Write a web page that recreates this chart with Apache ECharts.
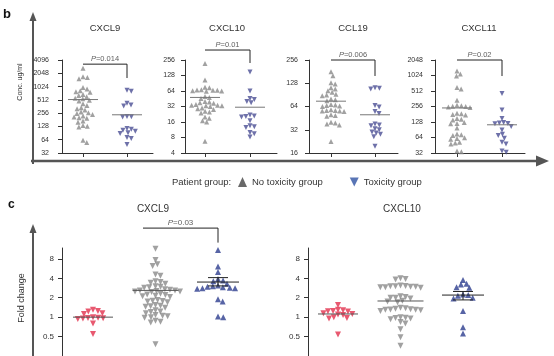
<!DOCTYPE html>
<html><head><meta charset="utf-8">
<script src="https://cdn.jsdelivr.net/npm/echarts@6/dist/echarts.min.js"></script>
<style>html,body{margin:0;padding:0;background:#fff}#chart{width:554px;height:356px}</style>
</head><body><div id="chart"></div>
<script>
// ================= DATA =================
const bTitles = ['CXCL9', 'CXCL10', 'CCL19', 'CXCL11'];
const bPvalues = ['0.014', '0.01', '0.006', '0.02'];
const bTicksCXCL9 = [32, 64, 128, 256, 512, 1024, 2048, 4096];
const bTicksCXCL10 = [4, 8, 16, 32, 64, 128, 256];
const bTicksCCL19 = [16, 32, 64, 128, 256];
const bTicksCXCL11 = [32, 64, 128, 256, 512, 1024, 2048];

const bNoToxCXCL9 = [2650, 1700, 1650, 1550, 980, 900, 820, 780, 760, 680, 640, 600, 560, 540, 500, 480, 420, 380, 340, 320, 300, 270, 260, 250, 240, 220, 210, 200, 195, 170, 160, 135, 130, 125, 62, 55];
const bToxCXCL9 = [850, 800, 430, 390, 370, 215, 212, 208, 115, 110, 105, 100, 92, 88, 72, 68, 50];
const bNoToxCXCL10 = [220, 105, 76, 74, 68, 67, 66, 66, 65, 64, 63, 50, 48, 46, 40, 39, 38, 37, 35, 34, 34, 33, 33, 32, 30, 29, 28, 26, 25, 24, 20, 19, 17, 16, 6.8];
const bToxCXCL10 = [150, 64, 46, 44, 40, 38, 22, 21, 20.5, 20, 17, 13.5, 13, 12.5, 10, 9.5, 8.2];
const bNoToxCCL19 = [180, 160, 130, 125, 112, 108, 102, 98, 92, 90, 88, 80, 78, 76, 68, 67, 66, 65, 64, 58, 57, 57, 56, 56, 55, 50, 49, 48, 40, 39, 38, 37, 22.6];
const bToxCCL19 = [112, 110, 108, 66, 63, 55, 52, 38, 37, 36, 33, 32, 30, 29, 28, 26, 19.5];
const bNoToxCXCL11 = [1250, 1100, 1000, 600, 560, 340, 270, 265, 260, 255, 250, 245, 190, 185, 180, 175, 150, 145, 140, 125, 120, 118, 98, 75, 72, 70, 63, 61, 59, 52, 50, 48, 35, 34];
const bToxCXCL11 = [460, 220, 150, 125, 122, 120, 118, 105, 90, 74, 70, 62, 52, 48, 35, 33];

const bMeansCXCL9 = [520, 235];
const bMeansCXCL10 = [48, 31];
const bMeansCCL19 = [75, 50];
const bMeansCXCL11 = [240, 113];
// bracket: [top value, bottom value of the right leg]
const bBracketCXCL9 = [3300, 1600];
const bBracketCXCL10 = [400, 224];
const bBracketCCL19 = [256, 159];
const bBracketCXCL11 = [2048, 1000];

const legendNames = ['No toxicity group', 'Toxicity group'];
const legendTitle = 'Patient group:';

const cTitles = ['CXCL9', 'CXCL10'];
const cTicks = [0.5, 1, 2, 4, 8];
const cAxisRange = [0.25, 11.8];
const cRedCXCL9 = [1.3, 1.25, 1.22, 1.15, 1.12, 1.0, 0.98, 0.97, 0.96, 0.95, 0.94, 0.8, 0.55];
const cGrayCXCL9 = [11.5, 7.7, 6.6, 6.2, 4.6, 4.4, 3.6, 3.5, 3.4, 3.3, 3.0, 2.95, 2.9, 2.85, 2.7, 2.65, 2.6, 2.6, 2.55, 2.5, 2.5, 2.45, 2.3, 2.25, 2.2, 2.15, 2.1, 2.05, 1.85, 1.8, 1.78, 1.75, 1.7, 1.55, 1.5, 1.48, 1.45, 1.4, 1.28, 1.22, 1.2, 1.15, 1.08, 1.05, 1.03, 1.0, 0.98, 0.88, 0.85, 0.83, 0.38];
const cBlueCXCL9 = [11, 6.1, 5.0, 3.9, 3.7, 3.6, 3.3, 3.1, 3.0, 2.95, 2.9, 2.85, 2.8, 2.8, 2.75, 1.9, 1.75, 1.02, 1.0];
const cMeansCXCL9 = [1.0, 2.6, 3.5];
const cSemCXCL9 = [3.05, 4.1];
const cRedCXCL10 = [1.55, 1.3, 1.28, 1.25, 1.24, 1.22, 1.15, 1.12, 1.1, 1.08, 1.0, 0.97, 0.95, 0.54];
const cGrayCXCL10 = [4.0, 3.9, 3.85, 3.1, 3.05, 3.0, 3.0, 2.95, 2.95, 2.9, 2.9, 2.85, 2.1, 2.05, 2.0, 2.0, 1.95, 1.8, 1.75, 1.7, 1.4, 1.38, 1.35, 1.33, 1.32, 1.3, 1.3, 1.28, 1.25, 1.0, 0.98, 0.97, 0.95, 0.93, 0.84, 0.8, 0.65, 0.49, 0.36];
const cBlueCXCL10 = [3.75, 3.3, 3.2, 2.9, 2.85, 2.25, 2.2, 2.15, 2.0, 1.95, 1.25, 0.7, 0.56];
const cMeansCXCL10 = [1.12, 1.78, 2.2];
const cSemCXCL10 = [1.85, 2.5];
const cPvalue = '0.03';
const cBracket = [24, 14.3]; // top, bottom of right leg (CXCL9)

// ================= LAYOUT / STYLE =================
const FONT = '"Liberation Sans", Arial, Helvetica, sans-serif';
const L2 = Math.log2;
const COL_GRAY = '#8a8a8a', COL_BTOX = '#4a4e94', COL_RED = '#e2304c', COL_BLUE = '#2d3d8e';

const grids = [], xAxes = [], yAxes = [], series = [];

function swarmOffsets(vals, pxY, d) {
  const order = vals.map((v, i) => i).sort((a, b) => vals[b] - vals[a]);
  const placed = [];
  const out = new Array(vals.length).fill(0);
  order.forEach(i => {
    const y = L2(vals[i]) * pxY;
    const near = placed.filter(p => Math.abs(p.y - y) < d);
    const cands = [0];
    near.forEach(p => {
      const dx = Math.sqrt(d * d - (p.y - y) * (p.y - y));
      cands.push(p.x + dx, p.x - dx);
    });
    cands.sort((a, b) => Math.abs(a) - Math.abs(b) || b - a);
    let x = 0;
    for (const c of cands) {
      if (near.every(p => (p.x - c) * (p.x - c) + (p.y - y) * (p.y - y) >= d * d - 1e-6)) { x = c; break; }
    }
    placed.push({ x, y });
    out[i] = x;
  });
  return out;
}

function lineSeries(gi, pts, color, width) {
  series.push({
    type: 'line', xAxisIndex: gi, yAxisIndex: gi, data: pts, symbol: 'none', silent: true,
    clip: false, z: 4, animation: false,
    lineStyle: { color: color, width: width }
  });
}

function addPanel(o) {
  const gi = grids.length;
  const width = o.right - o.left;
  const pxX = (o.cats[o.cats.length - 1] - o.cats[0]) / (o.cats.length - 1);
  const xmin = 1 - (o.cats[0] - o.left) / pxX;
  const xmax = xmin + width / pxX;
  const ymin = L2(o.yr[0]), ymax = L2(o.yr[1]);
  const pxY = o.height / (ymax - ymin);
  grids.push({ left: o.left, top: o.top, width: width, height: o.height });
  xAxes.push({
    type: 'value', gridIndex: gi, min: xmin, max: xmax, show: o.showX,
    axisLine: { show: true, onZero: false, lineStyle: { color: '#333', width: 1 } },
    axisTick: { show: true, customValues: o.cats.map((c, i) => i + 1), length: 4, lineStyle: { color: '#333' } },
    axisLabel: { show: false }, splitLine: { show: false }
  });
  yAxes.push({
    type: 'value', gridIndex: gi, min: ymin, max: ymax,
    axisLine: { show: true, onZero: false, lineStyle: { color: '#333', width: 1 } },
    axisTick: { show: true, length: 4, customValues: o.ticks.map(L2), lineStyle: { color: '#333' } },
    axisLabel: {
      show: true, customValues: o.ticks.map(L2), margin: o.margin, fontSize: o.tickFont,
      color: '#333', fontFamily: FONT,
      formatter: v => String(Math.round(Math.pow(2, v) * 1000) / 1000)
    },
    splitLine: { show: false }
  });
  o.groups.forEach((g, k) => {
    const xc = k + 1;
    const offs = swarmOffsets(g.vals, pxY, g.gap);
    series.push({
      type: 'scatter', name: g.name, xAxisIndex: gi, yAxisIndex: gi, symbol: 'triangle',
      symbolRotate: g.down ? 180 : 0, symbolSize: g.size, clip: false, silent: true, z: 2,
      itemStyle: { color: g.color },
      data: g.vals.map((v, i) => [xc + offs[i] / pxX, L2(v)])
    });
    const hw = g.hw / pxX;
    lineSeries(gi, [[xc - hw, L2(g.mean)], [xc + hw, L2(g.mean)]], g.lineColor, 1);
    if (g.sem) {
      const cw = 10 / pxX;
      lineSeries(gi, [[xc - cw, L2(g.sem[0])], [xc + cw, L2(g.sem[0])]], g.lineColor, 1);
      lineSeries(gi, [[xc - cw, L2(g.sem[1])], [xc + cw, L2(g.sem[1])]], g.lineColor, 1);
      lineSeries(gi, [[xc, L2(g.sem[0])], [xc, L2(g.sem[1])]], g.lineColor, 1);
    }
  });
  if (o.bracket) {
    const b = o.bracket;
    lineSeries(gi, [[b.x1, L2(b.top)], [b.x2, L2(b.top)], [b.x2, L2(b.bottom)]], '#222', 1);
    series.push({
      type: 'scatter', xAxisIndex: gi, yAxisIndex: gi, symbolSize: 1, clip: false, silent: true,
      itemStyle: { color: 'rgba(0,0,0,0)' },
      data: [[(b.x1 + b.x2) / 2, L2(b.top)]],
      label: {
        show: true, position: 'top', distance: 1, color: '#333', fontSize: o.pFont, fontFamily: FONT,
        formatter: '{i|P}=' + b.p,
        rich: { i: { fontStyle: 'italic', fontSize: o.pFont, fontFamily: FONT, color: '#333' } }
      }
    });
  }
}

// ---- panel b ----
const bLayout = [
  { left: 62, right: 153, cats: [83, 127], margin: 13 },
  { left: 185, right: 277, cats: [205, 250], margin: 10 },
  { left: 309, right: 398, cats: [331, 375], margin: 11 },
  { left: 435, right: 525, cats: [457, 502], margin: 12 }
];
const bTicks = [bTicksCXCL9, bTicksCXCL10, bTicksCCL19, bTicksCXCL11];
const bNoTox = [bNoToxCXCL9, bNoToxCXCL10, bNoToxCCL19, bNoToxCXCL11];
const bTox = [bToxCXCL9, bToxCXCL10, bToxCCL19, bToxCXCL11];
const bMeans = [bMeansCXCL9, bMeansCXCL10, bMeansCCL19, bMeansCXCL11];
const bBrackets = [bBracketCXCL9, bBracketCXCL10, bBracketCCL19, bBracketCXCL11];

bLayout.forEach((lay, i) => {
  addPanel({
    left: lay.left, right: lay.right, top: 60, height: 93, cats: lay.cats, showX: true,
    yr: [bTicks[i][0], bTicks[i][bTicks[i].length - 1]], ticks: bTicks[i], margin: lay.margin,
    tickFont: 7, pFont: 7.5,
    groups: [
      { name: legendNames[0], vals: bNoTox[i], color: COL_GRAY, down: false, size: 5, gap: 4.4, mean: bMeans[i][0], hw: 15, lineColor: '#777' },
      { name: legendNames[1], vals: bTox[i], color: COL_BTOX, down: true, size: 5, gap: 4.4, mean: bMeans[i][1], hw: 15, lineColor: '#777' }
    ],
    bracket: { x1: 1, x2: 2, top: bBrackets[i][0], bottom: bBrackets[i][1], p: bPvalues[i] }
  });
});

// ---- panel c ----
const cLayout = [
  { left: 62, right: 282, cats: [93, 155, 218] },
  { left: 308, right: 528, cats: [338, 400, 463] }
];
const cRed = [cRedCXCL9, cRedCXCL10], cGray = [cGrayCXCL9, cGrayCXCL10], cBlue = [cBlueCXCL9, cBlueCXCL10];
const cMeans = [cMeansCXCL9, cMeansCXCL10], cSem = [cSemCXCL9, cSemCXCL10];
const cPxPerDoubling = 21.33;
cLayout.forEach((lay, i) => {
  addPanel({
    left: lay.left, right: lay.right, top: 248,
    height: cPxPerDoubling * (L2(cAxisRange[1]) - L2(cAxisRange[0])),
    cats: lay.cats, showX: false, yr: cAxisRange, ticks: cTicks, margin: 8, tickFont: 8, pFont: 8,
    groups: [
      { name: 'c-red', vals: cRed[i], color: COL_RED, down: true, size: 6, gap: 5.1, mean: cMeans[i][0], hw: 20, lineColor: '#555' },
      { name: 'c-gray', vals: cGray[i], color: COL_GRAY, down: true, size: 6, gap: 5.1, mean: cMeans[i][1], hw: 23, lineColor: '#555' },
      { name: 'c-blue', vals: cBlue[i], color: COL_BLUE, down: false, size: 6, gap: 5.3, mean: cMeans[i][2], hw: 21, lineColor: '#222', sem: cSem[i] }
    ],
    bracket: i === 0 ? { x1: 1.8, x2: 3, top: cBracket[0], bottom: cBracket[1], p: cPvalue } : null
  });
});

// ---- decorations ----
function txt(t, x, y, size, opts) {
  return Object.assign({
    type: 'text', x: x, y: y, silent: true,
    style: Object.assign({ text: t, fill: '#333', font: size + 'px ' + FONT, textAlign: 'center', textVerticalAlign: 'middle' }, (opts && opts.style) || {})
  }, (opts && opts.el) || {});
}
const AX = '#555';
const graphics = [
  txt('b', 3, 14, 13, { style: { font: 'bold 13px ' + FONT, textAlign: 'left', fill: '#111' } }),
  { type: 'polyline', silent: true, shape: { points: [[33, 164], [33, 20]] }, style: { stroke: AX, lineWidth: 2 } },
  { type: 'polygon', silent: true, shape: { points: [[33, 12], [29.5, 21], [36.5, 21]] }, style: { fill: AX } },
  { type: 'polyline', silent: true, shape: { points: [[31, 161], [538, 161]] }, style: { stroke: AX, lineWidth: 2.5 } },
  { type: 'polygon', silent: true, shape: { points: [[549, 161], [536, 155.5], [536, 166.5]] }, style: { fill: AX } },
  txt('Conc. ug/ml', 20, 82, 7, { el: { rotation: Math.PI / 2 } }),
  txt(bTitles[0], 105, 28, 9.5), txt(bTitles[1], 227, 28, 9.5), txt(bTitles[2], 353, 28, 9.5), txt(bTitles[3], 479, 28, 9.5),
  txt(legendTitle, 172, 182, 9.5, { style: { textAlign: 'left' } }),
  txt('c', 8, 205, 12, { style: { font: 'bold 12px ' + FONT, textAlign: 'left', fill: '#111' } }),
  { type: 'polyline', silent: true, shape: { points: [[33, 360], [33, 232]] }, style: { stroke: AX, lineWidth: 2 } },
  { type: 'polygon', silent: true, shape: { points: [[33, 224], [29.5, 233], [36.5, 233]] }, style: { fill: AX } },
  txt('Fold change', 22, 298, 9, { el: { rotation: Math.PI / 2 } }),
  txt(cTitles[0], 153, 209, 10), txt(cTitles[1], 402, 209, 10)
];

const chart = echarts.init(document.getElementById('chart'), null, { renderer: 'canvas' });
chart.setOption({
  animation: false,
  backgroundColor: '#fff',
  textStyle: { fontFamily: FONT },
  grid: grids, xAxis: xAxes, yAxis: yAxes, series: series,
  legend: {
    left: 238, top: 177, padding: 0, itemWidth: 9, itemHeight: 10, itemGap: 27, symbolRotate: 0,
    selectedMode: false,
    textStyle: { fontSize: 9.5, color: '#333', fontFamily: FONT },
    data: [
      { name: legendNames[0], icon: 'triangle', itemStyle: { color: '#444' } },
      { name: legendNames[1], icon: 'path://M0,0L10,0L5,10Z', itemStyle: { color: '#2f52a3' } }
    ]
  },
  graphic: graphics
});
</script></body></html>
